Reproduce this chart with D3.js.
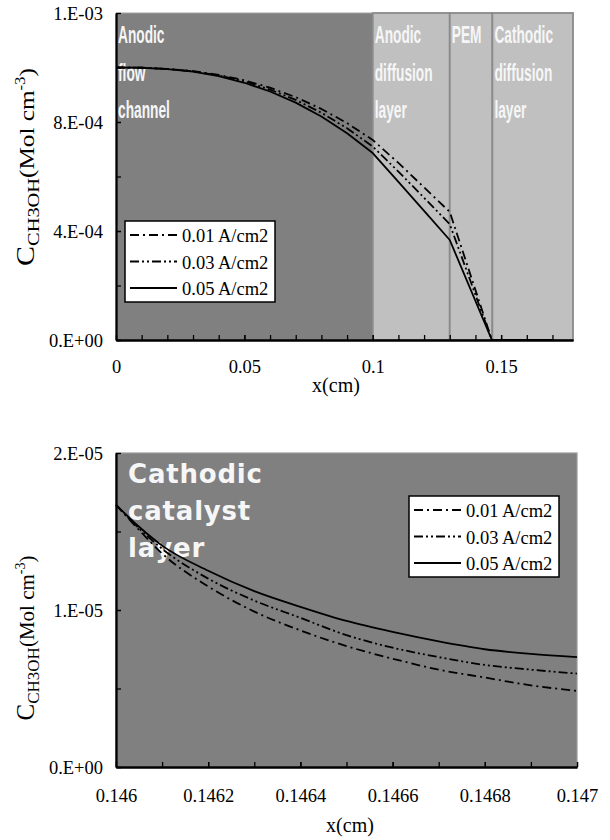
<!DOCTYPE html>
<html>
<head>
<meta charset="utf-8">
<script src="https://cdn.jsdelivr.net/npm/d3@7"></script>
<style>
  body { margin: 0; background: #fff; }
  svg text { font-family: "Liberation Serif", "Times New Roman", serif; }
</style>
</head>
<body>
<svg id="chart" width="610" height="840"></svg>
<script>
// series
const seriesNames = ['0.01 A/cm2', '0.03 A/cm2', '0.05 A/cm2']

// top panel, whole cell: x (cm) vs methanol concentration (mol/cm3)
const topX = [0, 0.01, 0.02, 0.03, 0.04, 0.05, 0.06, 0.07, 0.08, 0.09, 0.1, 0.11, 0.12, 0.13, 0.1464, 0.17]
const topC001 = [1.0e-3, 0.999e-3, 0.995e-3, 0.987e-3, 0.973e-3, 0.953e-3, 0.926e-3, 0.891e-3, 0.848e-3, 0.796e-3, 0.734e-3, 0.650e-3, 0.560e-3, 0.470e-3, 0, 0]
const topC003 = [1.0e-3, 0.999e-3, 0.995e-3, 0.986e-3, 0.971e-3, 0.949e-3, 0.919e-3, 0.881e-3, 0.834e-3, 0.777e-3, 0.710e-3, 0.618e-3, 0.522e-3, 0.425e-3, 0, 0]
const topC005 = [1.0e-3, 0.999e-3, 0.994e-3, 0.985e-3, 0.968e-3, 0.944e-3, 0.912e-3, 0.871e-3, 0.820e-3, 0.759e-3, 0.686e-3, 0.580e-3, 0.474e-3, 0.367e-3, 0, 0]

// cell layers shown as background bands
const layerEdges = [0, 0.1, 0.13, 0.1466, 0.178]
const layerLabels = [['Anodic', 'flow', 'channel'], ['Anodic', 'diffusion', 'layer'], ['PEM'], ['Cathodic', 'diffusion', 'layer']]

const topXTicks = [0, 0.05, 0.1, 0.15]
const topXTickLabels = ['0', '0.05', '0.1', '0.15']
const topYTicks = [0, 4e-4, 8e-4, 1.2e-3]
const topYTickLabels = ['0.E+00', '4.E-04', '8.E-04', '1.E-03']

// bottom panel, cathodic catalyst layer
const botX = [0.146, 0.14605, 0.1461, 0.1462, 0.1463, 0.1464, 0.1465, 0.1466, 0.1467, 0.1468, 0.1469, 0.147]
const botC001 = [16.7e-6, 15.1e-6, 13.6e-6, 11.5e-6, 9.9e-6, 8.7e-6, 7.7e-6, 6.9e-6, 6.2e-6, 5.7e-6, 5.2e-6, 4.85e-6]
const botC003 = [16.7e-6, 15.2e-6, 13.9e-6, 12.0e-6, 10.6e-6, 9.5e-6, 8.4e-6, 7.6e-6, 7.0e-6, 6.5e-6, 6.2e-6, 5.95e-6]
const botC005 = [16.7e-6, 15.3e-6, 14.1e-6, 12.5e-6, 11.2e-6, 10.2e-6, 9.3e-6, 8.6e-6, 8.0e-6, 7.5e-6, 7.2e-6, 7.0e-6]
const botLabel = ['Cathodic', 'catalyst', 'layer']

const botXTicks = [0.146, 0.1462, 0.1464, 0.1466, 0.1468, 0.147]
const botXTickLabels = ['0.146', '0.1462', '0.1464', '0.1466', '0.1468', '0.147']
const botYTicks = [0, 1e-5, 2e-5]
const botYTickLabels = ['0.E+00', '1.E-05', '2.E-05']

const dashes = ['9,4,2,4', '9,3,2,3,2,3', null]
const darkFill = '#808080'
const lightFill = '#c0c0c0'
const serif = '"Liberation Serif", "Times New Roman", serif'

const svg = d3.select('#chart')

function drawAxes(g, x, y, o) {
    // minor ticks (no labels)
    g.append('g')
        .attr('transform', `translate(0,${y.range()[0]})`)
        .call(d3.axisBottom(x).tickValues(o.xMinor).tickSize(-5).tickSizeOuter(0).tickFormat(''))
    g.append('g')
        .attr('transform', `translate(${x.range()[0]},0)`)
        .call(d3.axisLeft(y).tickValues(o.yMinor).tickSize(-5).tickSizeOuter(0).tickFormat(''))

    const xa = g.append('g')
        .attr('transform', `translate(0,${y.range()[0]})`)
        .call(d3.axisBottom(x).tickValues(o.xTicks).tickSize(-5).tickSizeOuter(0)
            .tickFormat((d, i) => o.xLabels[i]))
    xa.selectAll('text').attr('y', o.xLabelOffset).attr('dy', 0)

    const ya = g.append('g')
        .attr('transform', `translate(${x.range()[0]},0)`)
        .call(d3.axisLeft(y).tickValues(o.yTicks).tickSize(-5).tickSizeOuter(0)
            .tickFormat((d, i) => o.yLabels[i]))
    ya.selectAll('text').attr('x', -13).attr('dy', '0.33em')

    xa.attr('font-family', serif).attr('font-size', 18.5)
    ya.attr('font-family', serif).attr('font-size', 18.5)
    g.selectAll('.domain').attr('stroke', '#000').attr('stroke-width', 1.8)
    g.selectAll('.tick line').attr('stroke', '#000').attr('stroke-width', 1.3)
    g.selectAll('.tick text').attr('fill', '#000')
        .style('font-family', serif).style('font-size', '18.5px')
}

function drawCurves(g, x, y, xs, ys, curve) {
    const line = d3.line()
        .x(d => x(d[0]))
        .y(d => y(d[1]))
        .curve(curve)
    ys.forEach((vals, i) => {
        g.append('path')
            .datum(xs.map((v, j) => [v, vals[j]]))
            .attr('d', line)
            .attr('fill', 'none')
            .attr('stroke', '#000')
            .attr('stroke-width', 1.8)
            .attr('stroke-linejoin', 'round')
            .attr('stroke-dasharray', dashes[i])
    })
}

function drawLegend(g, left, top) {
    const lg = g.append('g').attr('transform', `translate(${left},${top})`)
    lg.append('rect')
        .attr('width', 150).attr('height', 81)
        .attr('fill', '#fff').attr('stroke', '#000').attr('stroke-width', 1.5)
    seriesNames.forEach((name, i) => {
        const cy = 14 + i * 26.5
        lg.append('line')
            .attr('x1', 5).attr('x2', 52).attr('y1', cy).attr('y2', cy)
            .attr('stroke', '#000').attr('stroke-width', 1.8)
            .attr('stroke-dasharray', dashes[i])
        lg.append('text')
            .attr('x', 57).attr('y', cy + 7)
            .style('font-family', serif)
            .style('font-size', '18.5px')
            .text(name)
    })
}

function drawYTitle(g, cx, cy, stretch) {
    const t = g.append('text')
        .attr('transform', `translate(${cx},${cy}) rotate(-90) scale(${stretch},1)`)
        .attr('text-anchor', 'middle')
        .attr('fill', '#000')
        .style('font-family', serif)
    t.append('tspan').style('font-size', '25px').text('C')
    t.append('tspan').style('font-size', '17px').attr('dy', 5).text('CH3OH')
    t.append('tspan').style('font-size', '21px').attr('dy', -5).text('(Mol cm')
    t.append('tspan').style('font-size', '14px').attr('dy', -9).text('-3')
    t.append('tspan').style('font-size', '21px').attr('dy', 9).text(')')
}

// ---------- top panel ----------
{
    const x = d3.scaleLinear().domain([0, 0.178]).range([116, 573])
    const y = d3.scaleLinear().domain([0, 1.2e-3]).range([340, 13])
    const g = svg.append('g')

    // layer bands
    layerLabels.forEach((lines, i) => {
        g.append('rect')
            .attr('x', x(layerEdges[i])).attr('y', y(1.2e-3))
            .attr('width', x(layerEdges[i + 1]) - x(layerEdges[i]))
            .attr('height', y(0) - y(1.2e-3))
            .attr('fill', i === 0 ? darkFill : lightFill)
            .attr('stroke', i === 0 ? 'none' : '#8a8a8a')
            .attr('stroke-width', 1.8)
    })
    g.append('line')
        .attr('x1', x(0)).attr('x2', x(0.1)).attr('y1', y(1.2e-3)).attr('y2', y(1.2e-3))
        .attr('stroke', '#a0a0a0').attr('stroke-width', 1)

    layerLabels.forEach((lines, i) => {
        lines.forEach((s, k) => {
            g.append('text')
                .attr('transform', `translate(${x(layerEdges[i]) + 2},${43 + k * 37.5}) scale(0.56,1)`)
                .style('font-family', '"Liberation Sans", Arial, sans-serif')
                .style('font-weight', 'bold')
                .style('font-size', '24.5px')
                .attr('fill', '#f6f6f6')
                .text(s)
        })
    })

    drawCurves(g, x, y, topX, [topC001, topC003, topC005], d3.curveLinear)

    drawAxes(g, x, y, {
        xMinor: d3.range(0, 0.1705, 0.01),
        yMinor: d3.range(0, 1.2e-3, 2e-4),
        xTicks: topXTicks, xLabels: topXTickLabels, xLabelOffset: 33,
        yTicks: topYTicks, yLabels: topYTickLabels
    })

    drawLegend(g, 125, 221)
    drawYTitle(g, 34, 167, 1.2)

    g.append('text')
        .attr('x', 336).attr('y', 392)
        .attr('text-anchor', 'middle')
        .style('font-family', serif)
        .style('font-size', '20px')
        .text('x(cm)')
}

// ---------- bottom panel ----------
{
    const x = d3.scaleLinear().domain([0.146, 0.147]).range([116, 577])
    const y = d3.scaleLinear().domain([0, 2e-5]).range([767, 453])
    const g = svg.append('g')

    g.append('rect')
        .attr('x', x(0.146)).attr('y', y(2e-5))
        .attr('width', x(0.147) - x(0.146)).attr('height', y(0) - y(2e-5))
        .attr('fill', darkFill)
        .attr('stroke', '#9a9a9a').attr('stroke-width', 1.2)

    botLabel.forEach((s, k) => {
        g.append('text')
            .attr('x', x(0.146) + 12).attr('y', 483 + k * 37)
            .style('font-family', '"DejaVu Sans", sans-serif')
            .style('font-weight', 'bold')
            .style('font-size', '26px')
            .style('letter-spacing', '0.8px')
            .attr('fill', '#f6f6f6')
            .text(s)
    })

    drawCurves(g, x, y, botX, [botC001, botC003, botC005], d3.curveMonotoneX)

    drawAxes(g, x, y, {
        xMinor: d3.range(0.146, 0.14705, 0.0001),
        yMinor: d3.range(0, 2e-5, 0.5e-5),
        xTicks: botXTicks, xLabels: botXTickLabels, xLabelOffset: 35,
        yTicks: botYTicks, yLabels: botYTickLabels
    })

    drawLegend(g, 409, 496)
    drawYTitle(g, 34, 638, 1.0)

    g.append('text')
        .attr('x', 350).attr('y', 832)
        .attr('text-anchor', 'middle')
        .style('font-family', serif)
        .style('font-size', '20px')
        .text('x(cm)')
}
</script>
</body>
</html>
